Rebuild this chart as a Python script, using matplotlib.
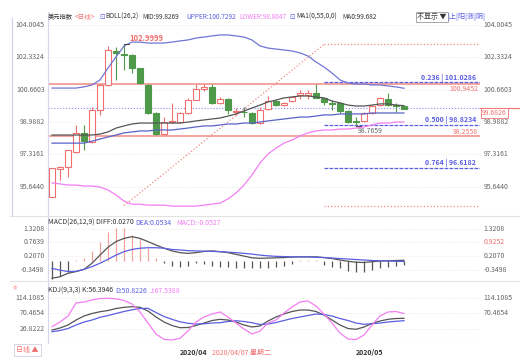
import numpy as np
import matplotlib.pyplot as plt
from matplotlib.lines import Line2D

plt.rcParams['font.family'] = ['Noto Sans CJK SC', 'DejaVu Sans']

# 美元指数 日线 K线数据
opens = [95.10, 96.55, 96.66, 97.43, 98.42, 97.94, 99.60, 100.90, 102.66, 102.50,
         102.45, 101.78, 100.90, 99.45, 98.36, 98.98, 98.98, 99.45, 100.12, 100.69,
         100.80, 99.97, 100.17, 99.50, 99.50, 99.45, 98.93, 99.66, 100.07, 99.86,
         100.07, 100.38, 100.38, 100.48, 100.23, 99.97, 99.97, 99.55, 99.04, 99.04,
         99.45, 99.86, 100.17, 99.86, 99.81]
highs = [96.62, 96.70, 97.55, 98.83, 98.83, 99.76, 100.95, 102.92, 102.87, 102.9999,
         102.50, 101.80, 100.95, 99.50, 99.24, 99.97, 99.50, 100.23, 100.95, 100.95,
         100.95, 100.28, 100.20, 99.71, 99.76, 99.48, 99.76, 100.33, 100.10, 100.00,
         100.30, 100.64, 100.64, 100.95, 100.25, 100.12, 100.00, 99.58, 99.24, 99.48,
         99.85, 100.26, 100.48, 99.97, 99.83]
lows = [95.08, 95.98, 96.14, 97.40, 97.53, 97.90, 99.35, 100.85, 101.16, 101.68,
        101.52, 100.95, 99.40, 98.31, 98.33, 98.93, 98.95, 99.40, 100.10, 100.59,
        99.93, 99.93, 99.40, 99.35, 99.24, 98.90, 98.90, 99.62, 99.83, 99.83,
        100.04, 100.17, 100.17, 100.20, 99.86, 99.60, 99.45, 98.93, 98.7659, 99.00,
        99.42, 99.83, 99.83, 99.50, 99.66]
closes = [96.60, 96.66, 97.53, 98.42, 97.99, 99.60, 100.90, 102.71, 102.56, 102.45,
          101.78, 101.00, 99.45, 98.36, 98.98, 99.04, 99.45, 100.12, 100.69, 100.80,
          99.97, 100.17, 99.60, 99.53, 99.48, 98.93, 99.60, 100.07, 99.86, 99.97,
          100.28, 100.48, 100.48, 100.23, 100.02, 99.92, 99.55, 98.98, 98.98, 99.45,
          99.81, 100.23, 99.86, 99.81, 99.68]

# BOLL(26,2) 与 MA
boll_upper = [100.74, 100.74, 100.74, 100.74, 100.80, 100.90, 101.16, 101.78, 102.35, 102.92,
              103.12, 103.12, 103.07, 103.07, 103.07, 103.12, 103.18, 103.23, 103.33, 103.38,
              103.44, 103.49, 103.49, 103.44, 103.38, 103.23, 102.92, 102.81, 102.76, 102.71,
              102.66, 102.56, 102.40, 102.09, 101.83, 101.52, 101.16, 101.00, 100.95, 100.95,
              100.90, 100.90, 100.85, 100.80, 100.73]
boll_mid = [98.31, 98.31, 98.31, 98.31, 98.31, 98.31, 98.36, 98.47, 98.67, 98.78,
            98.88, 98.93, 98.93, 98.93, 98.93, 98.93, 98.93, 98.98, 99.04, 99.09,
            99.14, 99.19, 99.29, 99.40, 99.55, 99.71, 99.86, 100.02, 100.12, 100.23,
            100.28, 100.33, 100.33, 100.28, 100.23, 100.07, 99.97, 99.86, 99.81, 99.81,
            99.86, 99.92, 99.92, 99.86, 99.83]
boll_lower = [95.83, 95.78, 95.72, 95.72, 95.67, 95.67, 95.62, 95.46, 95.21, 94.89,
              94.73, 94.73, 94.68, 94.68, 94.68, 94.63, 94.63, 94.63, 94.63, 94.68,
              94.73, 94.79, 95.00, 95.31, 95.72, 96.24, 96.86, 97.33, 97.63, 97.89,
              98.05, 98.26, 98.42, 98.52, 98.57, 98.57, 98.62, 98.62, 98.67, 98.73,
              98.83, 98.93, 98.93, 98.98, 98.98]
ma55 = [97.89, 97.89, 97.89, 97.89, 97.89, 97.99, 98.10, 98.21, 98.31, 98.42,
        98.47, 98.52, 98.52, 98.57, 98.57, 98.57, 98.62, 98.67, 98.73, 98.78,
        98.78, 98.83, 98.88, 98.88, 98.93, 98.93, 98.98, 99.04, 99.09, 99.14,
        99.19, 99.24, 99.24, 99.29, 99.35, 99.35, 99.40, 99.40, 99.40, 99.40,
        99.45, 99.45, 99.45, 99.45, 99.45]

# MACD(26,12,9)
macd_hist = [-0.75, -0.6, -0.45, 0.05, 0.12, 0.4, 0.77, 1.18, 1.34, 1.34,
             1.06, 0.93, 0.53, 0.11, -0.1, -0.2, -0.24, -0.2, -0.1, -0.13,
             -0.2, -0.24, -0.24, -0.27, -0.27, -0.3, -0.27, -0.27, -0.24, -0.2,
             -0.13, 0.04, 0.04, 0.04, -0.16, -0.24, -0.27, -0.4, -0.43, -0.43,
             -0.38, -0.3, -0.24, -0.2, -0.16]
diff = [-0.70, -0.64, -0.50, -0.43, -0.34, -0.09, 0.24, 0.56, 0.79, 0.92,
        0.99, 0.92, 0.79, 0.65, 0.52, 0.41, 0.34, 0.31, 0.34, 0.39,
        0.41, 0.38, 0.34, 0.27, 0.20, 0.13, 0.11, 0.12, 0.13, 0.14,
        0.16, 0.17, 0.17, 0.17, 0.14, 0.10, 0.04, -0.01, -0.05, -0.06,
        -0.03, 0.0, 0.01, 0.02, 0.03]
dea = [-0.30, -0.37, -0.43, -0.42, -0.34, -0.23, -0.09, 0.07, 0.24, 0.38,
       0.47, 0.52, 0.54, 0.54, 0.52, 0.47, 0.45, 0.42, 0.41, 0.40,
       0.39, 0.38, 0.36, 0.34, 0.31, 0.28, 0.24, 0.21, 0.19, 0.18,
       0.17, 0.17, 0.17, 0.15, 0.14, 0.12, 0.10, 0.08, 0.06, 0.04,
       0.02, 0.01, 0.0, -0.01, -0.02]

# KDJ(9,3,3)
kdj_k = [22.6, 28.2, 36.7, 50.7, 62.0, 69.1, 74.1, 77.5, 83.1, 86.5,
         88.2, 86.5, 76.1, 59.2, 45.1, 35.3, 29.1, 29.6, 35.3, 42.3,
         49.3, 52.7, 50.7, 45.1, 36.7, 31.0, 33.9, 47.9, 59.2, 67.7,
         74.7, 78.9, 78.9, 74.7, 64.8, 50.7, 36.7, 26.8, 24.6, 31.0,
         40.9, 47.9, 52.7, 55.0, 55.5]
kdj_d = [17.8, 21.2, 26.8, 36.7, 45.1, 50.7, 58.4, 63.4, 69.1, 74.7,
         79.5, 83.1, 83.7, 71.9, 60.6, 52.7, 45.7, 41.5, 39.5, 40.1,
         42.3, 43.1, 46.5, 48.8, 46.5, 43.1, 38.1, 39.5, 43.7, 49.3,
         55.0, 59.2, 63.4, 67.7, 66.2, 62.0, 55.0, 49.3, 42.3, 38.6,
         40.1, 42.3, 45.1, 47.1, 48.8]
kdj_j = [31.9, 45.1, 62.0, 98.6, 101.5, 107.1, 111.3, 111.9, 110.5, 105.7,
         95.8, 73.3, 42.3, 11.3, -3.6, -5.6, -0.8, 19.8, 45.1, 59.2,
         67.7, 73.3, 59.2, 42.3, 25.4, 11.3, 19.8, 42.3, 50.7, 70.5,
         87.4, 101.5, 104.3, 90.2, 67.7, 42.3, 14.1, -2.8, -4.2, 8.5,
         36.7, 62.0, 73.3, 74.7, 69.1]

price_ticks = [104.0045, 102.3324, 100.6603, 98.9882, 97.3161, 95.6440]
macd_ticks = [1.3208, 0.7639, 0.2070, -0.3498]
kdj_ticks = [114.1085, 70.4654, 26.8222]

# 画线工具 (斐波那契) 与水平线
fib_hi, fib_lo = 102.9999, 94.6469
fib_i0, fib_i1 = 9, 34
fib_ratios = [0.236, 0.5, 0.764]
hlines_red = [100.9452, 98.2558]
last_price = 99.6826
low_idx, low_val = 38, 98.7659

RED = '#f07070'
GREEN = '#4f9a4a'
BLUE = '#5a5ee0'
PINK = '#f27ef2'
DARK = '#333333'
GRAY = '#666666'

W, H = 520, 358
fig = plt.figure(figsize=(W / 100, H / 100), dpi=100)
fig.patch.set_facecolor('white')


def rect(top, bottom):
    return [48 / W, 1 - bottom / H, 432 / W, (bottom - top) / H]


ax = fig.add_axes(rect(12, 215))
ax_m = fig.add_axes(rect(217, 280))
ax_k = fig.add_axes(rect(282, 343))
x = np.arange(len(opens))

for a in (ax, ax_m, ax_k):
    a.set_xlim(-0.5, 53.5)
    a.set_xticks([])
    a.set_yticks([])
    for s in a.spines.values():
        s.set_visible(False)
    a.spines['left'].set_visible(True)
    a.spines['left'].set_color('#d6d6ee')
    a.spines['left'].set_linewidth(0.8)

ax.set_ylim(94.17, 104.677)
ax_m.set_ylim(-0.772, 1.789)
ax_k.set_ylim(-14.0, 157.8)

# 网格 (点线)
for a, ticks in ((ax, price_ticks), (ax_m, macd_ticks), (ax_k, kdj_ticks)):
    for t in ticks:
        a.axhline(t, color='#e6e6e6', lw=0.6, ls=':', zorder=0)

# K线
for i in x:
    o, h, l, c = opens[i], highs[i], lows[i], closes[i]
    up = c >= o
    col = RED if up else GREEN
    top, bot = max(o, c), min(o, c)
    ax.vlines(i, top, h, color=col, lw=0.8, zorder=3)
    ax.vlines(i, l, bot, color=col, lw=0.8, zorder=3)
    ax.bar(i, max(top - bot, 0.02), bottom=bot, width=0.7,
           facecolor='white' if up else GREEN, edgecolor=col, lw=0.8, zorder=3)

# BOLL / MA
ax.plot(x, boll_upper, color='#7176d6', lw=0.9, zorder=4)
ax.plot(x, boll_mid, color='#555555', lw=0.9, zorder=4)
ax.plot(x, boll_lower, color=PINK, lw=0.9, zorder=4)
ax.plot(x, ma55, color='#5a62c8', lw=0.9, zorder=4)

# 水平线
for v in hlines_red:
    ax.axhline(v, color='#f08a82', lw=1.1, zorder=2)
ax.axhline(last_price, color='#8c8cf0', lw=0.8, ls=':', zorder=2)
ax.text(53.3, hlines_red[0] - 0.04, f'{hlines_red[0]:.4f}', color=RED, fontsize=5,
        ha='right', va='top', zorder=5)
ax.text(53.3, hlines_red[1], f'{hlines_red[1]:.4f}', color=RED, fontsize=5,
        ha='right', va='bottom', zorder=5)

# 斐波那契
ax.plot([fib_i0, fib_i1], [fib_lo, fib_hi], color='#f08a82', lw=0.9, ls=':', zorder=2)
ax.hlines([fib_hi, fib_lo], fib_i1, 53.5, colors='#f08a82', lw=0.9, linestyles=':', zorder=2)
for r in fib_ratios:
    v = fib_hi - r * (fib_hi - fib_lo)
    ax.hlines(v, fib_i1, 53.5, colors=BLUE, lw=0.9, linestyles=(0, (3, 1)), zorder=2)
    ax.text(53.0, v + 0.05, f'{r:.3f} | {v:.4f}', color=BLUE, fontsize=5,
            fontweight='bold', ha='right', va='bottom', zorder=5)

# 最高 / 最低 标注
ax.plot([9, 9.6], [fib_hi, fib_hi], color=DARK, lw=0.6, zorder=5)
ax.text(9.7, fib_hi + 0.05, f'{fib_hi:.4f}', color=RED, fontsize=5.5,
        fontweight='bold', va='bottom', zorder=5)
ax.plot([low_idx, low_idx + 0.6], [low_val, low_val], color=DARK, lw=0.6, zorder=5)
ax.text(low_idx + 0.2, low_val - 0.05, f'{low_val:.4f}', color=GRAY, fontsize=5,
        va='top', zorder=5)

# 右侧价格标签
ty = ax.get_yaxis_transform()
for t in price_ticks:
    ax.text(1.008, t, f'{t:.4f}', transform=ty, color=GRAY, fontsize=5, va='center')
    ax.text(-0.008, t, f'{t:.4f}', transform=ty, color=GRAY, fontsize=5, va='center', ha='right')
ax.plot([1.0, 1.1], [last_price, last_price], transform=ty, color=RED, lw=0.8, clip_on=False)
ax.text(1.005, last_price - 0.03, f'{last_price:.4f}', transform=ty, color=RED, fontsize=5,
        va='top', bbox=dict(boxstyle='square,pad=0.2', fc='white', ec=RED, lw=0.6))

# MACD
hist_cols = ['#f4a39c' if v > 0 else '#555555' for v in macd_hist]
ax_m.vlines(x, 0, macd_hist, colors=hist_cols, lw=0.9)
ax_m.plot(x, diff, color='#555555', lw=0.9)
ax_m.plot(x, dea, color=BLUE, lw=0.9)
tm = ax_m.get_yaxis_transform()
for t in macd_ticks:
    ax_m.text(-0.008, t, f'{t:.4f}', transform=tm, color=GRAY, fontsize=5, va='center', ha='right')
for t, lab, col in zip(macd_ticks, ['1.3208', '0.9252', '0.2070', '-0.3498'],
                       [GRAY, RED, GRAY, GRAY]):
    ax_m.text(1.008, t, lab, transform=tm, color=col, fontsize=5, va='center')

# KDJ
ax_k.plot(x, kdj_k, color='#555555', lw=0.9)
ax_k.plot(x, kdj_d, color=BLUE, lw=0.9)
ax_k.plot(x, kdj_j, color=PINK, lw=0.9)
tk = ax_k.get_yaxis_transform()
for t in kdj_ticks:
    ax_k.text(-0.008, t, f'{t:.4f}', transform=tk, color=GRAY, fontsize=5, va='center', ha='right')
for t in kdj_ticks[:2]:
    ax_k.text(1.008, t, f'{t:.4f}', transform=tk, color=GRAY, fontsize=5, va='center')
ax_k.axhline(ax_k.get_ylim()[0], color='#cfcfe0', lw=0.8)

# 日期
ax_k.text(16, -0.1, '2020/04', transform=ax_k.get_xaxis_transform(), fontsize=5,
          color=DARK, fontweight='bold', va='top')
ax_k.text(20, -0.1, '2020/04/07 星期二', transform=ax_k.get_xaxis_transform(), fontsize=5,
          color=RED, va='top')
ax_k.text(38, -0.1, '2020/05', transform=ax_k.get_xaxis_transform(), fontsize=5,
          color=DARK, fontweight='bold', va='top')


# 图例文字
def ftext(px, py, s, col, size=5, **kw):
    fig.text(px / W, 1 - py / H, s, color=col, fontsize=size, va='center', **kw)


ftext(48, 17, '美元指数', DARK, size=4.5)
for px, s, col in [(75, '<日线>', RED), (99, '⊡', BLUE),
                   (105, 'BOLL(26,2)', DARK), (142, 'MID:99.8269', DARK),
                   (186, 'UPPER:100.7292', BLUE), (239, 'LOWER:98.8047', PINK),
                   (289, '⊡', BLUE), (296, 'MA1(0,55,0,0)', DARK), (342, 'MA0:99.682', DARK)]:
    ftext(px, 17, s, col, size=4.7)
ftext(417, 17, '不显示 ▼', DARK,
      bbox=dict(boxstyle='square,pad=0.2', fc='white', ec='#999999', lw=0.6))
ftext(447, 17, '|上|阳|涨|阴|', BLUE)

for px, s, col in [(48, 'MACD(26,12,9) DIFF:0.0270', DARK), (135, 'DEA:0.0534', BLUE),
                   (176, 'MACD:-0.0527', PINK)]:
    ftext(px, 223, s, col)
for px, s, col in [(48, 'KDJ(9,3,3) K:56.3946', DARK), (115, 'D:50.8226', BLUE),
                   (150, 'J:67.5388', PINK)]:
    ftext(px, 291, s, col)
ftext(11, 288, '☼', RED)
ftext(16, 350, '日线 ▲', RED,
      bbox=dict(boxstyle='square,pad=0.3', fc='white', ec='#d0d0e0', lw=0.6))

# 面板分隔线
fig.add_artist(Line2D([12 / W, 12 / W], [1 - 18 / H, 1 - 215 / H], color='#cfcff0', lw=0.8))
for py in (216, 281):
    fig.add_artist(Line2D([10 / W, 1], [1 - py / H, 1 - py / H], color='#e2e2e2', lw=0.8))

fig.savefig('out.png', dpi=100)
